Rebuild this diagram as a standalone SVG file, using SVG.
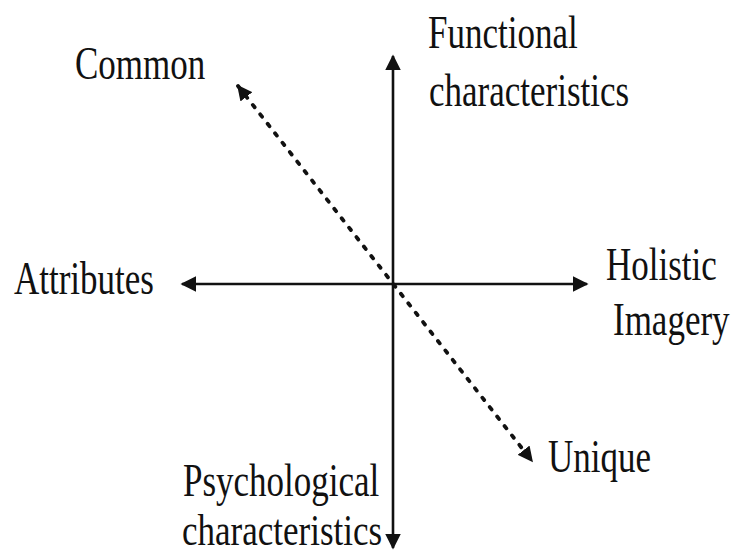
<svg xmlns="http://www.w3.org/2000/svg" width="735" height="556" viewBox="0 0 735 556">
<defs>
<style>
text{font-family:"Liberation Serif","Times New Roman",serif;font-size:35px;fill:#111}
.axis{stroke:#111;stroke-width:2.6;fill:none}
.dot{stroke:#111;stroke-width:3.8;fill:none;stroke-dasharray:3 9;stroke-linecap:round}
</style>
<marker id="ah" viewBox="0 0 10 10" refX="9" refY="5" markerWidth="6" markerHeight="6" orient="auto-start-reverse" markerUnits="strokeWidth">
<path d="M0,0 L10,5 L0,10 Z" fill="#111"/>
</marker>
<marker id="ahd" viewBox="0 0 10 10" refX="9" refY="5" markerWidth="4" markerHeight="4" orient="auto-start-reverse" markerUnits="strokeWidth">
<path d="M0,0 L10,5 L0,10 Z" fill="#111"/>
</marker>
</defs>
<g id="connectors">
<line class="axis" x1="393" y1="548" x2="393" y2="56" marker-start="url(#ah)" marker-end="url(#ah)"/>
<line class="axis" x1="182" y1="284" x2="587" y2="284" marker-start="url(#ah)" marker-end="url(#ah)"/>
<line class="dot" x1="238" y1="86" x2="532" y2="461" marker-start="url(#ahd)" marker-end="url(#ahd)"/>
</g>
<g id="common"><text transform="translate(75,79) scale(1,1.3)">Common</text></g>
<g id="functional"><text transform="translate(428,48) scale(1,1.3)">Functional</text><text transform="translate(429,106) scale(1,1.3)">characteristics</text></g>
<g id="holistic"><text transform="translate(606,280) scale(1,1.3)">Holistic</text><text transform="translate(613,335) scale(1,1.3)">Imagery</text></g>
<g id="attributes"><text transform="translate(14,294) scale(1,1.3)">Attributes</text></g>
<g id="unique"><text transform="translate(548,472) scale(1,1.3)">Unique</text></g>
<g id="psychological"><text transform="translate(183,496) scale(1,1.3)">Psychological</text><text transform="translate(182,545) scale(1,1.25)">characteristics</text></g>
</svg>
